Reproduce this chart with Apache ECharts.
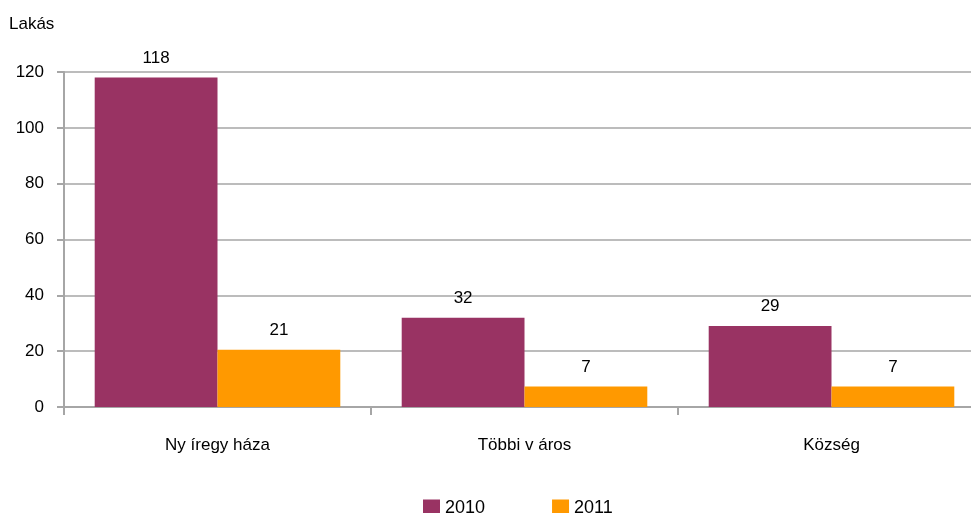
<!DOCTYPE html>
<html>
<head>
<meta charset="utf-8">
<script src="https://cdn.jsdelivr.net/npm/echarts@6/dist/echarts.min.js"></script>
<style>
  html, body { margin: 0; padding: 0; background: #fff; }
  #chart { width: 971px; height: 513px; }
</style>
</head>
<body>
<div id="chart"></div>
<script>
// Lakás – 2010 vs 2011, település típus szerint
const categories = ["Ny íregy háza", "Többi v áros", "Község"];
const values2010 = [118, 32, 29];
const values2011 = [20.5, 7.3, 7.3];
const yTicks = { min: 0, max: 120, interval: 20 };

const font = "'Liberation Sans', Arial, sans-serif";
const gridGrey = "#a6a6a6";

const chart = echarts.init(document.getElementById("chart"));

const label = {
  show: true, position: "top", distance: 11,
  color: "#000", fontFamily: font, fontSize: 17,
  formatter: p => Math.round(p.value),
};

chart.setOption({
  animation: false,
  textStyle: { fontFamily: font },
  grid: { left: 64, top: 72, width: 921, height: 335, outerBoundsMode: "none", containLabel: false },
  legend: {
    top: 494, left: 418, itemGap: 67,
    itemWidth: 17, itemHeight: 17, icon: "rect",
    textStyle: { fontSize: 18, color: "#000", fontFamily: font },
    data: ["2010", "2011"],
  },
  graphic: [{
    type: "text", left: 9, top: 16,
    style: { text: "Lakás", fontSize: 17, fontFamily: font, fill: "#000" },
  }],
  xAxis: {
    type: "category", data: categories,
    axisLine: { lineStyle: { color: gridGrey, width: 2 } },
    axisTick: { show: true, length: 8, lineStyle: { color: gridGrey, width: 2 } },
    axisLabel: { color: "#000", fontSize: 17, margin: 30 },
  },
  yAxis: {
    type: "value", min: yTicks.min, max: yTicks.max, interval: yTicks.interval,
    axisLine: { show: true, lineStyle: { color: gridGrey, width: 2 } },
    axisTick: { show: true, length: 7, lineStyle: { color: gridGrey, width: 2 } },
    axisLabel: { color: "#000", fontSize: 17, margin: 20 },
    splitLine: { lineStyle: { color: gridGrey, width: 1.5 } },
  },
  series: [
    { name: "2010", type: "bar", data: values2010, barWidth: "40%", barGap: "0%",
      itemStyle: { color: "#993363" }, label },
    { name: "2011", type: "bar", data: values2011, barWidth: "40%",
      itemStyle: { color: "#ff9900" }, label },
  ],
});
</script>
</body>
</html>
